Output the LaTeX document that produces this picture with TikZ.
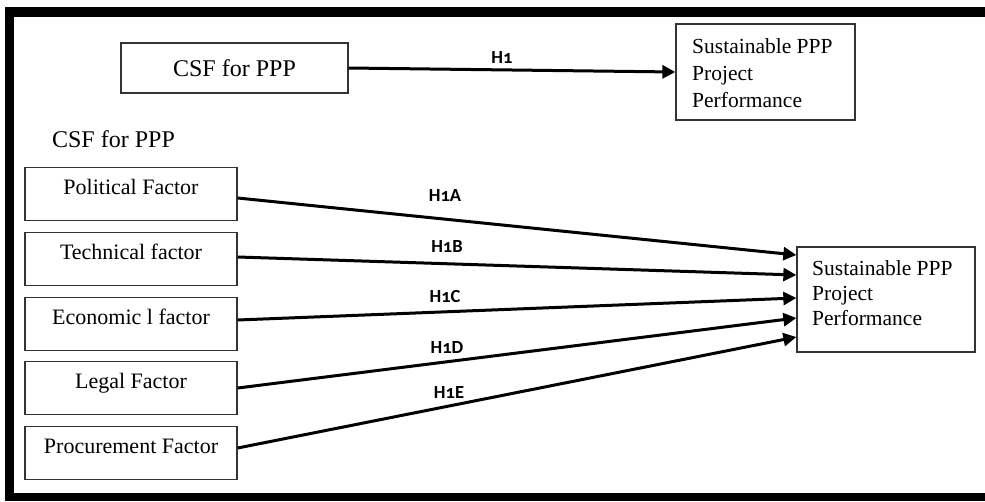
\documentclass[tikz,border=0pt]{standalone}
\usepackage{fontspec}
\setmainfont{Liberation Serif}
\newfontfamily\labfont[Numbers=OldStyle]{Carlito}
\usetikzlibrary{arrows.meta,calc}
\begin{document}
\begin{tikzpicture}[x=1pt,y=-1pt,
  box/.style={draw=black!80, line width=1.3pt, inner sep=0pt},
  factor/.style={box, minimum width=212pt, minimum height=53pt,
    font=\fontsize{22}{26}\selectfont, text height=14pt, text depth=14pt},
  outtext/.style={inner sep=0pt, align=left, anchor=north west},
  conn/.style={line width=3pt, -{Triangle[length=13pt,width=13pt]}},
  hyp/.style={font=\labfont\bfseries\fontsize{18.5}{20}\selectfont, inner sep=0pt,
    text height=12pt, text depth=0pt}]
\useasboundingbox (0,0) rectangle (985,501);
% frame
\fill[black] (5,7) rectangle (985,17);
\fill[black] (5,7) rectangle (14,501);
\fill[black] (5,493) rectangle (985,501);

% top row
\node[box, minimum width=227pt, minimum height=50pt,
  font=\fontsize{24}{28}\selectfont, text height=17pt, text depth=0pt]
  (csf) at (234.5,68) {CSF for PPP};
\node[box, minimum width=179pt, minimum height=96pt] (out1) at (765.5,72) {};
\node[outtext, font=\fontsize{21.5}{27}\selectfont] (out1t) at (692,38)
  {Sustainable PPP\\Project\\Performance};
\draw[conn] (csf.east) -- (out1.west);
\node[hyp] (h1) at (502,57) {H1};

% lower part
\node[inner sep=0pt, font=\fontsize{24}{28}\selectfont, text height=15.5pt, text depth=0pt]
  (csfl) at (113.5,140) {CSF for PPP};
\node[factor] (pol) at (131,194) {Political Factor};
\node[factor] (tech) at (131,259) {Technical factor};
\node[factor] (econ) at (131,324) {Economic l factor};
\node[factor] (legal) at (131,388) {Legal Factor};
\node[factor] (proc) at (131,453) {Procurement Factor};

\node[box, minimum width=178pt, minimum height=105pt] (out2) at (886,299.5) {};
\node[outtext, font=\fontsize{21.5}{25}\selectfont] (out2t) at (812,260)
  {Sustainable PPP\\Project\\Performance};

\draw[conn] ($(pol.east)+(0,4)$) -- ($(out2.west)+(0,-44.5)$);
\draw[conn] ($(tech.east)+(0,-2)$) -- ($(out2.west)+(0,-24.5)$);
\draw[conn] ($(econ.east)+(0,-4)$) -- ($(out2.west)+(0,-1.5)$);
\draw[conn] (legal.east) -- ($(out2.west)+(0,18.5)$);
\draw[conn] ($(proc.east)+(0,-5)$) -- ($(out2.west)+(0,37.5)$);

\node[hyp] (h1a) at (445,195) {H1A};
\node[hyp] (h1b) at (447,246) {H1B};
\node[hyp] (h1c) at (445,296) {H1C};
\node[hyp] (h1d) at (447,347) {H1D};
\node[hyp] (h1e) at (449,392) {H1E};
\end{tikzpicture}
\end{document}
